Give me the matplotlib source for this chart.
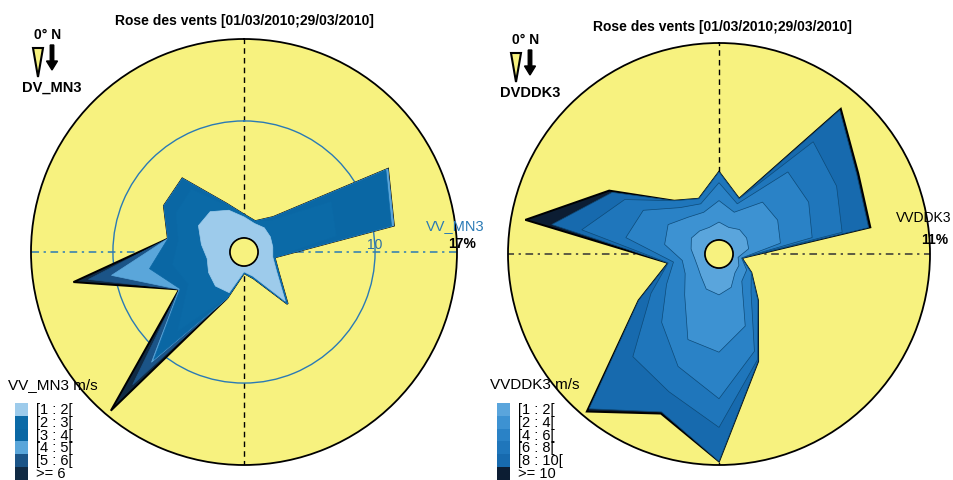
import numpy as np
import matplotlib
matplotlib.use('Agg')
import matplotlib.pyplot as plt
from matplotlib.patches import Polygon, FancyArrow, Rectangle

W, H = 954, 480
FONT = ['Liberation Sans Narrow', 'Liberation Sans', 'DejaVu Sans']
plt.rcParams['font.family'] = FONT

# ---------------- data ----------------
directions = np.arange(0, 360, 20)  # degrees, clockwise from North

title_text = 'Rose des vents [01/03/2010;29/03/2010]'

# Left rose : station MN3, speed classes in m/s, frequencies in %
left_name_dir = 'DV_MN3'
left_name_speed = 'VV_MN3'
left_rmax = 17
left_ring = 10
left_classes = ['[1 : 2[', '[2 : 3[', '[3 : 4[', '[4 : 5[', '[5 : 6[', '>= 6']
left_c1 = [1.8, 1.4, 1.5, 1.4, 1.3, 1.3, 2.0, 4.3, 1.0, 0.5, 2.5, 2.6, 2.3, 2.0, 2.5, 3.3, 3.3, 2.6]
left_c2 = [0.2, 0.2, 0.8, 6.0, 5.5, 0.15, 0.2, 0.2, 0.2, 0.1, 0.4, 5.0, 2.0, 3.0, 2.0, 2.2, 2.5, 0.4]
left_c3 = [0.0, 0.0, 0.4, 5.4, 4.8, 0.0, 0.0, 0.1, 0.0, 0.0, 0.1, 3.2, 0.8, 2.0, 0.9, 1.2, 1.2, 0.2]
left_c4 = [0.0, 0.0, 0.0, 0.2, 0.2, 0.0, 0.0, 0.0, 0.0, 0.0, 0.0, 0.3, 0.1, 3.3, 0.0, 0.0, 0.0, 0.0]
left_c5 = [0.0, 0.0, 0.0, 0.0, 0.0, 0.0, 0.0, 0.0, 0.0, 0.0, 0.0, 2.5, 0.0, 2.0, 0.0, 0.0, 0.0, 0.0]
left_c6 = [0.0, 0.0, 0.0, 0.0, 0.0, 0.0, 0.0, 0.0, 0.0, 0.0, 0.0, 2.9, 0.0, 1.3, 0.0, 0.0, 0.0, 0.0]

# Right rose : station DDK3
right_name_dir = 'DVDDK3'
right_name_speed = 'VVDDK3'
right_rmax = 11
right_classes = ['[1 : 2[', '[2 : 4[', '[4 : 6[', '[6 : 8[', '[8 : 10[', '>= 10']
right_c1 = [1.0, 0.8, 1.0, 1.0, 0.9, 0.3, 0.5, 0.6, 1.2, 1.5, 1.3, 0.8, 0.6, 0.6, 0.8, 1.0, 0.9, 0.8]
right_c2 = [1.2, 0.9, 2.0, 2.0, 1.8, 0.2, 0.5, 0.6, 2.3, 3.2, 3.0, 1.4, 0.8, 0.7, 1.5, 1.5, 1.0, 0.9]
right_c3 = [1.0, 0.5, 2.2, 2.0, 1.8, 0.0, 0.3, 0.8, 1.5, 2.6, 1.6, 2.0, 1.2, 0.5, 2.2, 1.6, 0.7, 0.5]
right_c4 = [0.6, 0.3, 2.2, 1.8, 1.7, 0.0, 0.0, 0.6, 0.5, 1.6, 1.5, 2.5, 1.0, 0.3, 2.5, 1.2, 0.5, 0.3]
right_c5 = [0.0, 0.0, 2.3, 1.3, 1.5, 0.0, 0.0, 0.0, 0.1, 1.9, 1.2, 3.8, 0.8, 0.0, 1.7, 0.8, 0.0, 0.0]
right_c6 = [0.0, 0.0, 0.1, 0.1, 0.1, 0.0, 0.0, 0.0, 0.0, 0.0, 0.1, 0.2, 0.0, 0.0, 1.5, 0.2, 0.0, 0.0]

# ---------------- styles ----------------
YELLOW = '#f7f27f'
left_colors = ['#9dcbeb', '#0b6aa7', '#0a67a4', '#5aa6da', '#1b5487', '#102a44']
right_colors = ['#5aa5dc', '#3d92d2', '#2a82c6', '#1f76bb', '#176aae', '#0c1d33']

fig = plt.figure(figsize=(W / 100, H / 100), dpi=100)
fig.patch.set_facecolor('white')


def fx(x):
    return x / W


def fy(y):
    return 1 - y / H


def draw_rose(cx, cy, R, hole_px, rmax, series, colors, hline_color,
              inner_edge, ring=None):
    ax = fig.add_axes([(cx - R) / W, (H - cy - R) / H, 2 * R / W, 2 * R / H],
                      projection='polar')
    ax.set_theta_zero_location('N')
    ax.set_theta_direction(-1)
    hole = rmax * hole_px / (R - hole_px)
    ax.set_ylim(0, rmax)
    ax.set_rorigin(-hole)
    ax.set_facecolor(YELLOW)
    ax.set_axisbelow(True)

    ax.set_thetagrids([0, 90, 180, 270], labels=[''] * 4)
    ax.xaxis.grid(True, color='black', lw=1.0, linestyle=(0, (4, 3)))
    for i, t in enumerate(ax.xaxis.get_major_ticks()):
        if i % 2 == 1:
            t.gridline.set_color(hline_color)
            t.gridline.set_linestyle((0, (5, 3, 1.5, 3)))
            t.gridline.set_linewidth(1.1)
    if ring is not None:
        ax.set_rgrids([ring], labels=[''])
        ax.yaxis.grid(True, color='#2a7ab5', lw=1.0, linestyle='-')
    else:
        ax.set_yticks([])
    ax.tick_params(length=0)

    for sp in ['inner', 'start', 'end']:
        if sp in ax.spines:
            ax.spines[sp].set_visible(False)
    ax.spines['polar'].set_color('black')
    ax.spines['polar'].set_linewidth(1.3)

    theta = np.deg2rad(directions)
    cum = np.cumsum(np.array(series, dtype=float), axis=0)
    n = len(series)
    for k in range(n - 1, -1, -1):
        if k == n - 1:
            edge, lw = 'black', 1.4
        else:
            edge = inner_edge if inner_edge is not None else colors[k]
            lw = 0.5
        ax.fill(theta, cum[k], facecolor=colors[k], edgecolor=edge, lw=lw,
                joinstyle='miter', zorder=2)

    circ = np.linspace(0, 2 * np.pi, 120)
    ax.fill(circ, np.zeros_like(circ), facecolor=YELLOW, edgecolor='black',
            lw=1.2, clip_on=False, zorder=3)
    return ax


axL = draw_rose(244, 252, 213, 14, left_rmax,
                [left_c1, left_c2, left_c3, left_c4, left_c5, left_c6],
                left_colors, '#2a7ab5', None, ring=left_ring)
axL.text(np.deg2rad(90), left_ring, str(left_ring), ha='center', va='bottom',
         fontsize=10, color='#2a6fa5')

axR = draw_rose(719, 254, 211, 14, right_rmax,
                [right_c1, right_c2, right_c3, right_c4, right_c5, right_c6],
                right_colors, '#333333', '#0d4a78')


def header(x0, title_x, title_y, name_dir, n_y, name_y):
    fig.text(fx(title_x), fy(title_y), title_text, ha='center', va='center',
             fontsize=10, fontweight='bold')
    fig.text(fx(x0 + 18), fy(n_y), '0° N', ha='center', va='center',
             fontsize=10, fontweight='bold')
    # direction icon
    v = Polygon([(fx(x0 + 3), fy(n_y + 13)), (fx(x0 + 13), fy(n_y + 13)),
                 (fx(x0 + 8), fy(n_y + 42))], closed=True, transform=fig.transFigure,
                facecolor=YELLOW, edgecolor='black', lw=1.5)
    fig.patches.append(v)
    arr = FancyArrow(fx(x0 + 22), fy(n_y + 10), 0, fy(n_y + 35) - fy(n_y + 10),
                     width=3.5 / W, head_width=11 / W, head_length=9 / H,
                     length_includes_head=True, transform=fig.transFigure,
                     color='black')
    fig.patches.append(arr)
    fig.text(fx(x0 + 22), fy(name_y), name_dir, ha='center', va='center',
             fontsize=10.5, fontweight='bold')


header(30, 244, 21, left_name_dir, 35, 88)
header(508, 722, 27, right_name_dir, 40, 93)

# right side labels
fig.text(fx(455), fy(226), left_name_speed, ha='center', va='center',
         fontsize=10.5, color='#2a7ab5')
fig.text(fx(462), fy(244), f'{left_rmax}%', ha='center', va='center',
         fontsize=10, fontweight='bold')
fig.text(fx(951), fy(218), right_name_speed, ha='right', va='center',
         fontsize=10)
fig.text(fx(935), fy(240), f'{right_rmax}%', ha='center', va='center',
         fontsize=10, fontweight='bold')


def legend(x0, title, classes, colors):
    fig.text(fx(x0 - 2), fy(385), title + ' m/s', ha='left', va='center',
             fontsize=11)
    top = 403
    step = 12.8
    for i, (lab, c) in enumerate(zip(classes, colors)):
        r = Rectangle((fx(x0 + 5), fy(top + (i + 1) * step)), 13 / W, step / H,
                      transform=fig.transFigure, facecolor=c, edgecolor='none')
        fig.patches.append(r)
        fig.text(fx(x0 + 26), fy(top + 7 + i * step), lab, ha='left',
                 va='center', fontsize=10.5)


legend(10, left_name_speed, left_classes, left_colors)
legend(492, right_name_speed, right_classes, right_colors)

fig.savefig('out.png', dpi=100, facecolor='white')
